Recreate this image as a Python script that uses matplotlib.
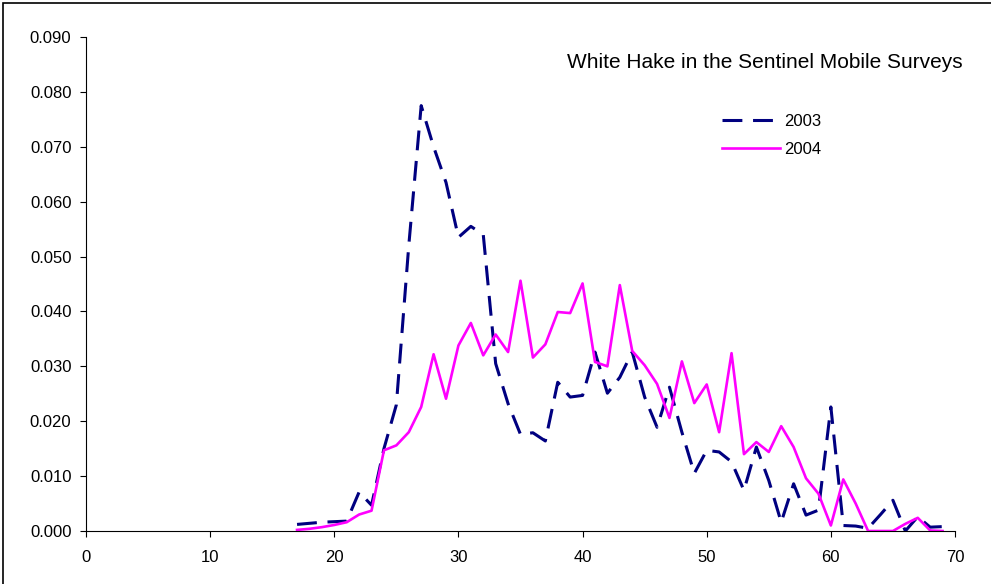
import matplotlib
matplotlib.use("Agg")
import matplotlib.pyplot as plt
from matplotlib.patches import Rectangle

plt.rcParams['font.family'] = ['Liberation Sans', 'DejaVu Sans']

lengths = list(range(17, 70))

y2003 = [0.0012, 0.0014, 0.0016, 0.0017, 0.0018, 0.0071, 0.0047, 0.0150, 0.0230,
         0.0520, 0.0775, 0.0700, 0.0635, 0.0535, 0.0555, 0.0540, 0.0305, 0.0232,
         0.0176, 0.0179, 0.0164, 0.0271, 0.0244, 0.0247, 0.0326, 0.0251, 0.0280,
         0.0326, 0.0244, 0.0189, 0.0262, 0.0180, 0.0105, 0.0147, 0.0144, 0.0126,
         0.0074, 0.0153, 0.0092, 0.0016, 0.0086, 0.0029, 0.0038, 0.0226, 0.0010,
         0.0009, 0.0005, 0.0030, 0.0056, 0.0000, 0.0026, 0.0007, 0.0008]

y2004 = [0.0002, 0.0004, 0.0007, 0.0011, 0.0016, 0.0030, 0.0037, 0.0147, 0.0156,
         0.0180, 0.0226, 0.0322, 0.0241, 0.0338, 0.0379, 0.0320, 0.0358, 0.0326,
         0.0456, 0.0316, 0.0340, 0.0399, 0.0397, 0.0451, 0.0308, 0.0300, 0.0448,
         0.0328, 0.0302, 0.0268, 0.0206, 0.0309, 0.0233, 0.0267, 0.0180, 0.0324,
         0.0140, 0.0162, 0.0144, 0.0191, 0.0153, 0.0096, 0.0068, 0.0010, 0.0094,
         0.0050, 0.0000, 0.0000, 0.0000, 0.0013, 0.0024, 0.0001, 0.0000]

xticks = [0, 10, 20, 30, 40, 50, 60, 70]
yticks = [0.0, 0.01, 0.02, 0.03, 0.04, 0.05, 0.06, 0.07, 0.08, 0.09]
title = "White Hake in the Sentinel Mobile Surveys"

fig = plt.figure(figsize=(9.91, 5.84), dpi=100)
ax = fig.add_axes([86 / 991, 1 - 531 / 584, (955 - 86) / 991, (531 - 37) / 584])

ax.plot(lengths, y2003, color='#000080', lw=2.2, dashes=(6.5, 3.5), label='2003')
ax.plot(lengths, y2004, color='#FF00FF', lw=1.9, label='2004')

ax.set_xlim(0, 70)
ax.set_ylim(0, 0.09)
ax.set_xticks(xticks)
ax.set_yticks(yticks)
ax.set_yticklabels(["%.3f" % v for v in yticks])
ax.tick_params(direction='out', length=4.5, width=0.8, labelsize=12)
ax.tick_params(axis='y', pad=6)
ax.tick_params(axis='x', pad=9)
for s in ['top', 'right']:
    ax.spines[s].set_visible(False)
for s in ['left', 'bottom']:
    ax.spines[s].set_linewidth(0.8)
    ax.spines[s].set_color('#000000')

ax.legend(loc='upper left', bbox_to_anchor=(722 / 991, 1 - 114 / 584),
          bbox_transform=fig.transFigure, frameon=False, fontsize=12,
          handlelength=3.5, handletextpad=0.2, labelspacing=0.8,
          borderpad=0, borderaxespad=0)

fig.text(963 / 991, 1 - 62 / 584, title, ha='right', va='center', fontsize=15)

# outer chart frame (only top and left visible in the crop)
fig.patches.append(Rectangle((3 / 991, -0.1), 1.2, 1.1 - 2.5 / 584,
                             transform=fig.transFigure, fill=False,
                             edgecolor='black', lw=1.2))

fig.savefig("out.png", dpi=100)
